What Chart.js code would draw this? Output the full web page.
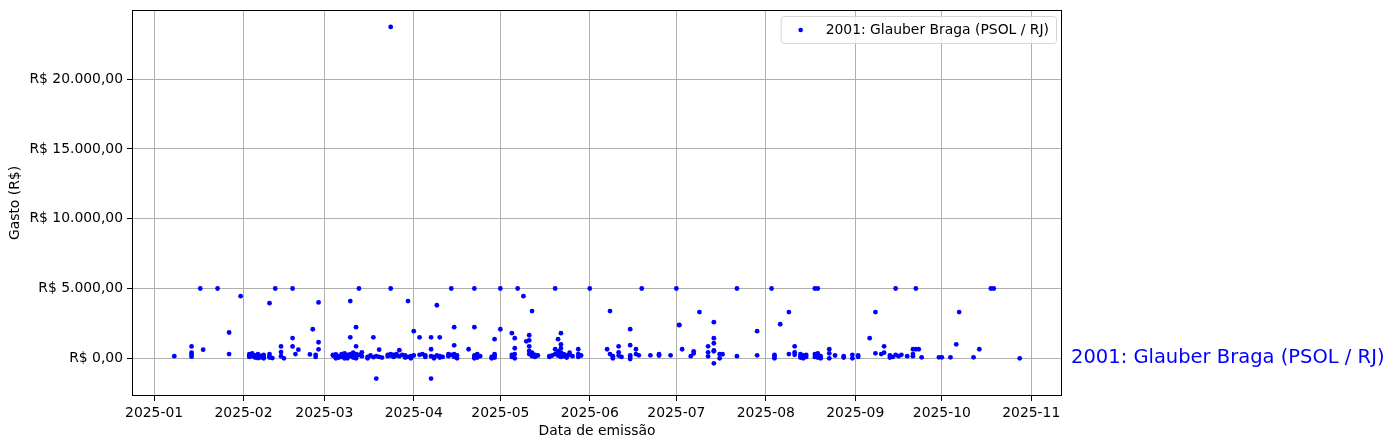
<!DOCTYPE html>
<html>
<head>
<meta charset="utf-8">
<script src="https://cdn.jsdelivr.net/npm/chart.js@4.4.1/dist/chart.umd.min.js"></script>
<style>
    html, body { margin: 0; padding: 0; background: #fff; }
    #wrap { width: 1393px; height: 448px; }
</style>
</head>
<body>
<div id="wrap"><canvas id="gastos"></canvas></div>
<script>
const serieNome = '2001: Glauber Braga (PSOL / RJ)';

// datas de emissao (uma por nota), na mesma ordem dos valores
const datas = [
    // jan
    '2025-01-08', '2025-01-14', '2025-01-14', '2025-01-14', '2025-01-14', '2025-01-17', '2025-01-18', '2025-01-23',
    '2025-01-27', '2025-01-27', '2025-01-31',
    // fev
    '2025-02-03', '2025-02-03', '2025-02-03', '2025-02-04', '2025-02-04', '2025-02-04', '2025-02-05', '2025-02-05',
    '2025-02-06', '2025-02-06', '2025-02-06', '2025-02-07', '2025-02-07', '2025-02-08', '2025-02-08', '2025-02-08',
    '2025-02-10', '2025-02-10', '2025-02-10', '2025-02-10', '2025-02-11', '2025-02-12', '2025-02-14', '2025-02-14',
    '2025-02-14', '2025-02-15', '2025-02-18', '2025-02-18', '2025-02-18', '2025-02-19', '2025-02-20', '2025-02-24',
    '2025-02-25', '2025-02-26', '2025-02-26', '2025-02-27', '2025-02-27', '2025-02-27',
    // mar
    '2025-03-04', '2025-03-04', '2025-03-05', '2025-03-05', '2025-03-06', '2025-03-06', '2025-03-07', '2025-03-07',
    '2025-03-08', '2025-03-08', '2025-03-08', '2025-03-09', '2025-03-09', '2025-03-09', '2025-03-10', '2025-03-10',
    '2025-03-10', '2025-03-10', '2025-03-11', '2025-03-11', '2025-03-11', '2025-03-12', '2025-03-12', '2025-03-12',
    '2025-03-12', '2025-03-12', '2025-03-13', '2025-03-13', '2025-03-14', '2025-03-14', '2025-03-16', '2025-03-16',
    '2025-03-17', '2025-03-18', '2025-03-18', '2025-03-19', '2025-03-19', '2025-03-20', '2025-03-20', '2025-03-21',
    '2025-03-23', '2025-03-23', '2025-03-24', '2025-03-24', '2025-03-24', '2025-03-24', '2025-03-25', '2025-03-25',
    '2025-03-26', '2025-03-26', '2025-03-27', '2025-03-27', '2025-03-28', '2025-03-29', '2025-03-29', '2025-03-30',
    '2025-03-30', '2025-03-31', '2025-03-31',
    // abr
    '2025-04-01', '2025-04-01', '2025-04-03', '2025-04-03', '2025-04-04', '2025-04-05', '2025-04-05', '2025-04-07',
    '2025-04-07', '2025-04-07', '2025-04-07', '2025-04-08', '2025-04-08', '2025-04-09', '2025-04-09', '2025-04-10',
    '2025-04-10', '2025-04-10', '2025-04-11', '2025-04-13', '2025-04-13', '2025-04-14', '2025-04-14', '2025-04-15',
    '2025-04-15', '2025-04-15', '2025-04-15', '2025-04-16', '2025-04-16', '2025-04-20', '2025-04-22', '2025-04-22',
    '2025-04-22', '2025-04-22', '2025-04-22', '2025-04-23', '2025-04-23', '2025-04-24', '2025-04-28', '2025-04-28',
    '2025-04-29', '2025-04-29', '2025-04-29', '2025-04-29',
    // mai
    '2025-05-01', '2025-05-01', '2025-05-05', '2025-05-05', '2025-05-05', '2025-05-06', '2025-05-06', '2025-05-06',
    '2025-05-06', '2025-05-07', '2025-05-09', '2025-05-10', '2025-05-11', '2025-05-11', '2025-05-11', '2025-05-11',
    '2025-05-11', '2025-05-12', '2025-05-12', '2025-05-12', '2025-05-12', '2025-05-13', '2025-05-13', '2025-05-14',
    '2025-05-18', '2025-05-18', '2025-05-19', '2025-05-20', '2025-05-20', '2025-05-20', '2025-05-21', '2025-05-21',
    '2025-05-21', '2025-05-22', '2025-05-22', '2025-05-22', '2025-05-22', '2025-05-22', '2025-05-22', '2025-05-23',
    '2025-05-23', '2025-05-24', '2025-05-24', '2025-05-25', '2025-05-25', '2025-05-26', '2025-05-28', '2025-05-28',
    '2025-05-28', '2025-05-29',
    // jun
    '2025-06-01', '2025-06-07', '2025-06-08', '2025-06-08', '2025-06-09', '2025-06-09', '2025-06-09', '2025-06-11',
    '2025-06-11', '2025-06-11', '2025-06-12', '2025-06-15', '2025-06-15', '2025-06-15', '2025-06-15', '2025-06-15',
    '2025-06-17', '2025-06-17', '2025-06-18', '2025-06-19', '2025-06-22', '2025-06-25', '2025-06-25', '2025-06-29',
    // jul
    '2025-07-01', '2025-07-02', '2025-07-02', '2025-07-03', '2025-07-06', '2025-07-07', '2025-07-07', '2025-07-09',
    '2025-07-12', '2025-07-12', '2025-07-12', '2025-07-14', '2025-07-14', '2025-07-14', '2025-07-14', '2025-07-14',
    '2025-07-14', '2025-07-16', '2025-07-16', '2025-07-17', '2025-07-22', '2025-07-22', '2025-07-29', '2025-07-29',
    // ago
    '2025-08-03', '2025-08-04', '2025-08-04', '2025-08-04', '2025-08-06', '2025-08-09', '2025-08-09', '2025-08-11',
    '2025-08-11', '2025-08-11', '2025-08-13', '2025-08-13', '2025-08-13', '2025-08-14', '2025-08-14', '2025-08-15',
    '2025-08-15', '2025-08-18', '2025-08-18', '2025-08-18', '2025-08-19', '2025-08-19', '2025-08-19', '2025-08-19',
    '2025-08-20', '2025-08-20', '2025-08-23', '2025-08-23', '2025-08-23', '2025-08-25', '2025-08-28', '2025-08-28',
    '2025-08-31', '2025-08-31',
    // set
    '2025-09-02', '2025-09-02', '2025-09-06', '2025-09-08', '2025-09-08', '2025-09-10', '2025-09-11', '2025-09-11',
    '2025-09-13', '2025-09-13', '2025-09-14', '2025-09-15', '2025-09-15', '2025-09-16', '2025-09-17', '2025-09-19',
    '2025-09-21', '2025-09-21', '2025-09-21', '2025-09-22', '2025-09-22', '2025-09-23', '2025-09-24', '2025-09-30',
    // out
    '2025-10-01', '2025-10-04', '2025-10-06', '2025-10-07', '2025-10-12', '2025-10-14', '2025-10-18', '2025-10-19',
    '2025-10-28'
];

// gasto em R$
const valores = [
    // jan
    150, 850, 400, 250, 120, 5000, 620, 5000,
    1850, 300, 4450,
    // fev
    200, 300, 100, 250, 350, 150, 50, 200,
    100, 300, 20, 180, 60, 250, 0, 120,
    3950, 150, 300, 50, 20, 5000, 850, 450,
    150, 0, 5000, 1450, 850, 300, 620, 280,
    2080, 250, 100, 1150, 640, 4000,
    // mar
    200, 250, 280, 0, 150, 50, 300, 100,
    200, 0, 350, 250, 100, 0, 1500, 4100,
    300, 150, 200, 50, 400, 2230, 860, 300,
    100, 0, 5000, 250, 430, 150, 100, 0,
    200, 1500, 80, -1450, 150, 620, 100, 50,
    250, 150, 23740, 5000, 300, 200, 250, 100,
    300, 200, 580, 150, 250, 200, 50, 4100,
    100, 150, 0,
    // abr
    1940, 200, 1500, 250, 300, 100, 200, 1500,
    -1450, 650, 150, 100, 0, 3800, 200, 1500,
    150, 50, 100, 300, 150, 5000, 250, 2230,
    930, 100, 300, 200, 0, 650, 5000, 2230,
    200, 100, 0, 300, 50, 150, 100, 0,
    1370, 300, 200, 50,
    // mai
    5000, 2080, 1800, 250, 100, 1440, 720, 300,
    0, 5000, 4450, 1220, 1650, 1290, 860, 530,
    300, 3380, 400, 200, 150, 250, 100, 200,
    150, 100, 200, 5000, 650, 300, 1370, 500,
    200, 1800, 1000, 720, 400, 250, 100, 300,
    150, 200, 50, 400, 250, 150, 650, 300,
    100, 200,
    // jun
    5000, 650, 3380, 300, 150, 100, 0, 860,
    430, 200, 100, 2090, 940, 200, 100, -50,
    650, 300, 216, 5000, 216, 290, 200, 216,
    // jul
    5000, 2370, 2400, 650, 150, 500, 350, 3310,
    860, 430, 140, 2590, 1440, 1080, 575, -360,
    500, 290, 0, 290, 5000, 150, 1940, 215,
    // ago
    5000, 250, 150, 0, 2440, 3310, 300, 860,
    430, 250, 300, 150, 50, 200, 0, 100,
    250, 5000, 300, 100, 5000, 350, 200, 50,
    150, 0, 650, 360, 0, 200, 150, 50,
    250, 0,
    // set
    200, 100, 1440, 3310, 360, 300, 860, 400,
    200, 50, 100, 5000, 250, 150, 250, 150,
    650, 300, 150, 5000, 650, 650, 70, 70,
    // out
    70, 70, 1000, 3310, 70, 650, 5000, 5000,
    0
];

const ticksMes = ['2025-01', '2025-02', '2025-03', '2025-04', '2025-05', '2025-06',
    '2025-07', '2025-08', '2025-09', '2025-10', '2025-11'];
const ticksGasto = [0, 5000, 10000, 15000, 20000];

const DIA = 86400000;
const paraMs = s => new Date(s.length === 7 ? s + '-01' : s).getTime();

const pontos = datas.map((d, i) => ({ x: paraMs(d), y: valores[i] }));

function formataReal(v) {
    const partes = v.toFixed(2).split('.');
    const inteiro = partes[0].replace(/\B(?=(\d{3})+(?!\d))/g, '.');
    return 'R$ ' + inteiro + ',' + partes[1];
}

const fonte = 'DejaVu Sans';
Chart.defaults.color = '#000';
Chart.defaults.font.family = fonte;
Chart.defaults.font.size = 13.9;

// moldura, legenda e rotulo a direita (estilo matplotlib)
const extras = {
    id: 'extras',
    afterDraw(chart) {
        const { ctx, chartArea: a } = chart;
        ctx.save();
        ctx.strokeStyle = '#000';
        ctx.lineWidth = 1;
        ctx.strokeRect(a.left + 0.5, a.top + 0.5, a.right - a.left - 1, a.bottom - a.top - 1);

        // legenda
        ctx.font = '13.9px ' + fonte;
        const tw = ctx.measureText(serieNome).width;
        const w = tw + 52, h = 27;
        const x = a.right - 6 - w, y = a.top + 6;
        ctx.beginPath();
        ctx.roundRect(x + 0.5, y + 0.5, w, h, 3);
        ctx.fillStyle = 'rgba(255,255,255,0.8)';
        ctx.fill();
        ctx.strokeStyle = '#d6d6d6';
        ctx.stroke();
        ctx.fillStyle = 'blue';
        ctx.beginPath();
        ctx.arc(x + 20, y + 14, 2.3, 0, Math.PI * 2);
        ctx.fill();
        ctx.fillStyle = '#000';
        ctx.textBaseline = 'middle';
        ctx.fillText(serieNome, x + 45, y + 14);

        // rotulo ao lado do eixo
        const y0 = chart.scales.y.getPixelForValue(0);
        ctx.font = '19.5px ' + fonte;
        ctx.fillStyle = 'blue';
        ctx.fillText(serieNome, a.right + 9, y0);
        ctx.restore();
    }
};

new Chart(document.getElementById('gastos'), {
    type: 'scatter',
    data: {
        datasets: [{
            label: serieNome,
            data: pontos,
            pointRadius: 2.4,
            pointHoverRadius: 2.4,
            pointBorderWidth: 0,
            pointBackgroundColor: 'blue'
        }]
    },
    options: {
        responsive: true,
        maintainAspectRatio: false,
        animation: false,
        layout: { padding: { top: 10, right: 331, left: 0, bottom: 0 } },
        plugins: {
            legend: { display: false },
            tooltip: { enabled: false }
        },
        scales: {
            x: {
                type: 'linear',
                min: paraMs('2025-01-08') - 14.65 * DIA,
                max: paraMs('2025-10-28') + 14.65 * DIA,
                afterBuildTicks: s => { s.ticks = ticksMes.map(t => ({ value: paraMs(t) })); },
                afterFit: s => { s.height = 52; s.paddingLeft = 0; s.paddingRight = 0; },
                ticks: {
                    autoSkip: false,
                    maxRotation: 0,
                    padding: 4,
                    callback: (v) => ticksMes.find(t => paraMs(t) === v) || ''
                },
                grid: { color: '#b0b0b0', tickColor: '#000', tickLength: 5 },
                border: { display: false },
                title: { display: true, text: 'Data de emissão', padding: { top: 0, bottom: 8 } }
            },
            y: {
                min: -2700,
                max: 24950,
                afterBuildTicks: s => { s.ticks = ticksGasto.map(v => ({ value: v })); },
                afterFit: s => { s.width = 132; s.paddingTop = 0; s.paddingBottom = 0; },
                ticks: {
                    padding: 4,
                    callback: v => formataReal(v)
                },
                grid: { color: '#b0b0b0', tickColor: '#000', tickLength: 5 },
                border: { display: false },
                title: { display: true, text: 'Gasto (R$)', padding: { top: 7, bottom: 0 } }
            }
        }
    },
    plugins: [extras]
});
</script>
</body>
</html>
